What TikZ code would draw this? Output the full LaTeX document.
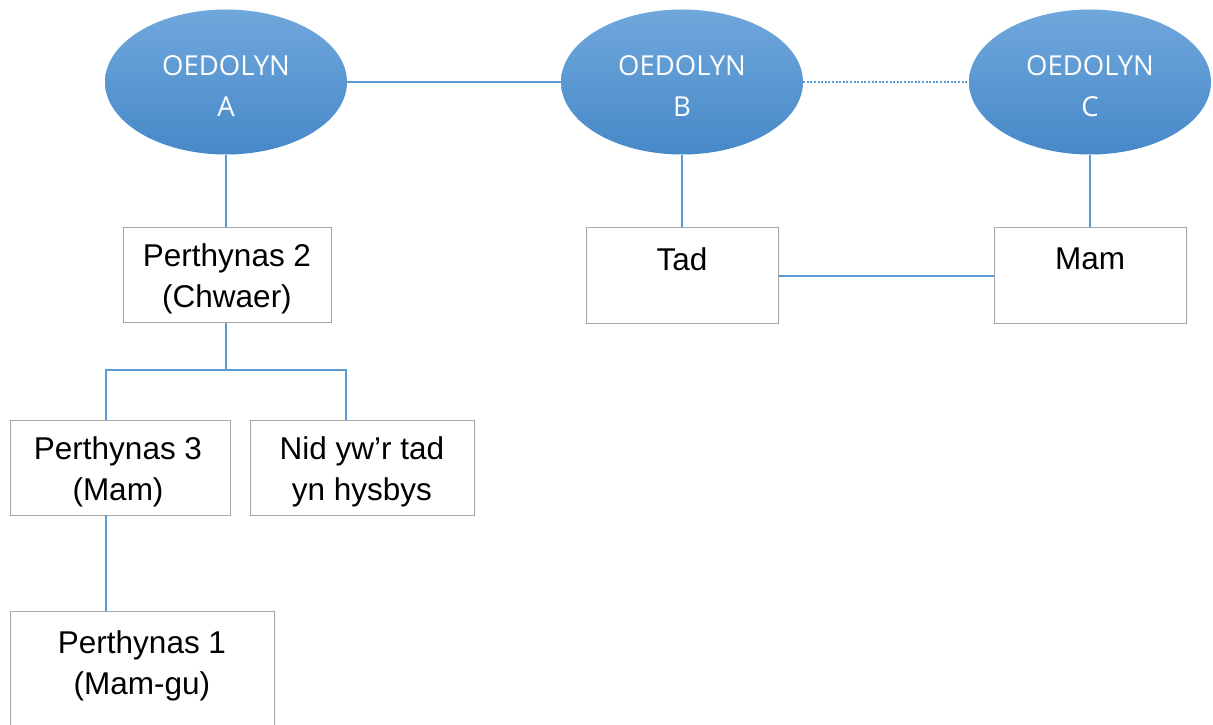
\documentclass[tikz,border=0pt]{standalone}
\usepackage{fontspec}
\setmainfont{Liberation Sans}
\newfontfamily\ellfont{Open Sans}
\usetikzlibrary{shapes.geometric}
\definecolor{linkblue}{HTML}{5B9BD5}
\definecolor{elltop}{HTML}{70A7DC}
\definecolor{ellbot}{HTML}{4689C8}
\definecolor{boxgray}{HTML}{A6A6A6}
\tikzset{
  person/.style={ellipse, minimum width=242pt, minimum height=145pt, inner sep=0pt,
    top color=elltop, bottom color=ellbot, draw=none},
  elltext/.style={text=white, font=\ellfont\fontsize{27.5}{41}\selectfont, align=center, inner sep=0pt},
  famebox/.style={draw=boxgray, line width=1.3pt, fill=white, inner sep=0pt, anchor=north west},
  boxtext/.style={font=\fontsize{31.5}{41}\selectfont, align=center, inner sep=0pt},
  link/.style={draw=linkblue, line width=1.8pt},
  dottedlink/.style={draw=linkblue, line width=2.2pt, dash pattern=on 2pt off 1.6pt}
}
\begin{document}
\begin{tikzpicture}[x=1pt,y=-1pt]
\useasboundingbox (0,0) rectangle (1213,725);
\clip (0,0) rectangle (1213,725);
\fill[white] (0,0) rectangle (1213,725);
% ellipses
\node[person] (a) at (226,82) {};
\node[person] (b) at (682,82) {};
\node[person] (c) at (1090,82) {};
\node[elltext] (at) at (226,86) {OEDOLYN\\A};
\node[elltext] (bt) at (682,86) {OEDOLYN\\B};
\node[elltext] (ct) at (1090,86) {OEDOLYN\\C};
% boxes
\node[famebox, minimum width=208pt, minimum height=95pt] (p2) at (123,227) {};
\node[famebox, minimum width=192pt, minimum height=96pt] (tad) at (586,227) {};
\node[famebox, minimum width=192pt, minimum height=96pt] (mam) at (994,227) {};
\node[famebox, minimum width=220pt, minimum height=95pt] (p3) at (10,420) {};
\node[famebox, minimum width=224pt, minimum height=95pt] (nid) at (250,420) {};
\node[famebox, minimum width=264pt, minimum height=140pt] (p1) at (10,611) {};
% texts
\node[boxtext] (p2t) at (227,279) {Perthynas 2\\(Chwaer)};
\node[boxtext] (tadt) at (682,259) {Tad};
\node[boxtext] (mamt) at (1090,259) {Mam};
\node[boxtext] (p3t) at (118,472) {Perthynas 3\\(Mam)};
\node[boxtext] (nidt) at (362,472) {Nid yw’r tad\\yn hysbys};
\node[boxtext] (p1t) at (142,666) {Perthynas 1\\(Mam-gu)};
% connectors
\draw[link] (a.east) -- (b.west);
\draw[dottedlink] (b.east) -- (c.west);
\draw[link] (a.south) -- (a.south |- p2.north);
\draw[link] (b.south) -- (b.south |- tad.north);
\draw[link] (c.south) -- (c.south |- mam.north);
\draw[link] ([yshift=-0.5pt]tad.east) -- ([yshift=-0.5pt]mam.west);
\coordinate (fork) at (226,370);
\draw[link] (p2.south -| a.south) -- (fork);
\draw[link] (106,420) -- (106,370) -- (346,370) -- (346,420);
\draw[link] (106,515) -- (106,611);
\end{tikzpicture}
\end{document}
